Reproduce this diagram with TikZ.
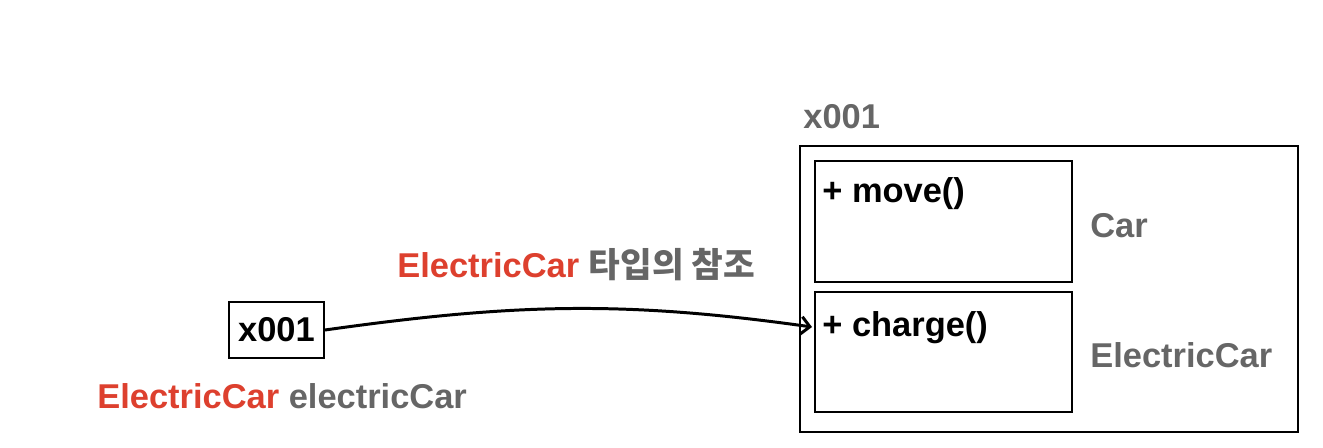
\documentclass[tikz,border=0pt]{standalone}
\usepackage{fontspec}
\setmainfont{Liberation Sans}
\newfontfamily\krfont{Noto Sans CJK KR}
\usepackage{xcolor}
\usetikzlibrary{positioning, calc, arrows.meta}

\definecolor{TypeRed}{RGB}{221,64,46}
\definecolor{NameGray}{RGB}{102,102,102}

\begin{document}
\begin{tikzpicture}[
		BoxNode/.style={draw=black, line width=1.1pt, inner sep=0pt},
		LabelText/.style={font=\fontsize{19.6}{22}\selectfont\bfseries, inner sep=0pt},
		RefArrow/.style={line width=1.7pt, ->, >={Straight Barb[length=5pt, width=10pt]}}]

	\useasboundingbox (0,0) rectangle (26.46,8.94);

	% Nodes
	\node[BoxNode, minimum width=9.96cm, minimum height=5.72cm] (Heap) at (20.98,3.16) {};
	\node[BoxNode, minimum width=5.14cm, minimum height=2.42cm] (CarBox) at (18.87,4.51) {};
	\node[BoxNode, minimum width=5.14cm, minimum height=2.40cm] (ChargeBox) at (18.87,1.90) {};
	\node[BoxNode, minimum width=1.9cm, minimum height=1.12cm, LabelText] (XBox) at (5.53,2.34) {x001};

	\node[LabelText, anchor=base west] (MoveText) at (16.44,4.88) {+ move()};
	\node[LabelText, anchor=base west] (ChargeText) at (16.44,2.22) {+ charge()};
	\node[LabelText, anchor=base west, text=NameGray] (CarLabel) at (21.80,4.20) {Car};
	\node[LabelText, anchor=base west, text=NameGray] (ElecLabel) at (21.80,1.60) {ElectricCar};
	\node[LabelText, anchor=base west, text=NameGray] (HeapAddr) at (16.06,6.36) {x001};

	\node[LabelText, anchor=base west] (VarLabel) at (1.94,0.78)
		{\textcolor{TypeRed}{ElectricCar} \textcolor{NameGray}{electricCar}};
	\node[LabelText, anchor=base west] (RefLabel) at (7.94,3.40)
		{\textcolor{TypeRed}{ElectricCar} \textcolor{NameGray}{\krfont 타입의 참조}};

	\coordinate (RefEnd) at (16.24,2.40);

	% Lines
	\draw[RefArrow] (XBox.east) to[out=8, in=172] (RefEnd);
\end{tikzpicture}
\end{document}
